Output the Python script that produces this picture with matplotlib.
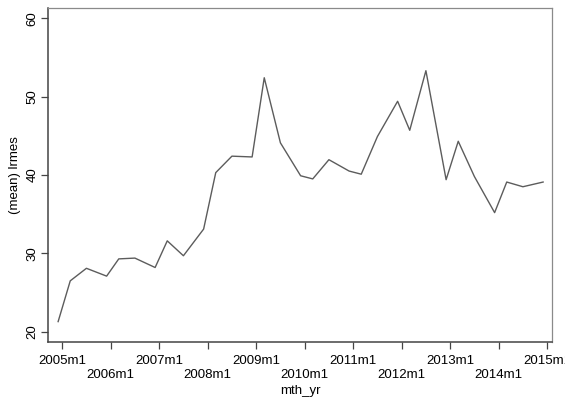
import numpy as np
import matplotlib
matplotlib.use("Agg")
import matplotlib.pyplot as plt

plt.rcParams['font.family'] = ['Liberation Sans', 'DejaVu Sans']

# observation periods (Stata style year-month) and the mean of lrmes
periods = ["2004m12",
           "2005m3", "2005m7", "2005m12",
           "2006m3", "2006m7", "2006m12",
           "2007m3", "2007m7", "2007m12",
           "2008m3", "2008m7", "2008m12",
           "2009m3", "2009m7", "2009m12",
           "2010m3", "2010m7", "2010m12",
           "2011m3", "2011m7", "2011m12",
           "2012m3", "2012m7", "2012m12",
           "2013m3", "2013m7", "2013m12",
           "2014m3", "2014m7", "2014m12"]
lrmes = [21.3,
         26.5, 28.1, 27.1,
         29.3, 29.4, 28.2,
         31.6, 29.7, 33.1,
         40.3, 42.4, 42.3,
         52.4, 44.1, 39.9,
         39.5, 41.95, 40.5,
         40.1, 44.9, 49.4,
         45.7, 53.3, 39.4,
         44.3, 39.8, 35.2,
         39.1, 38.5, 39.1]
tick_years = list(range(2005, 2016))
y_ticks = [20, 30, 40, 50, 60]


def to_monthly(s):
    yr, mo = s.split("m")
    return (int(yr) - 1960) * 12 + int(mo) - 1


x = np.array([to_monthly(p) for p in periods])
xt = [to_monthly(f"{y}m1") for y in tick_years]
# alternate the x labels over two rows
xt_labels = [f"{y}m1" if i % 2 == 0 else f"\n{y}m1" for i, y in enumerate(tick_years)]

fig = plt.figure(figsize=(5.65, 3.98), dpi=100)
ax = fig.add_axes([0.085, 0.1407, 0.892, 0.8393])

ax.plot(x, lrmes, color="#5c5c5c", lw=1.0)

ax.set_xlim(to_monthly("2005m1") - 3.5, to_monthly("2015m1") + 1.2)
ax.set_ylim(18.7, 61.3)

ax.set_xticks(xt)
ax.set_xticklabels(xt_labels, fontsize=9.5, linespacing=1.25)
ax.set_yticks(y_ticks)
ax.set_yticklabels([str(v) for v in y_ticks], fontsize=9.5, rotation=90, va="center")

ax.tick_params(axis="both", direction="out", length=5, width=0.9, color="#444444")
ax.tick_params(axis="x", pad=4)
ax.tick_params(axis="y", pad=2)

for side in ["left", "bottom"]:
    ax.spines[side].set_color("#444444")
    ax.spines[side].set_linewidth(1.1)
for side in ["top", "right"]:
    ax.spines[side].set_color("#8a8a8a")
    ax.spines[side].set_linewidth(0.9)

ax.set_xlabel("mth_yr", fontsize=9.5, labelpad=3)
ax.set_ylabel("(mean) lrmes", fontsize=9.5, labelpad=4)

fig.savefig("out.png", dpi=100)
